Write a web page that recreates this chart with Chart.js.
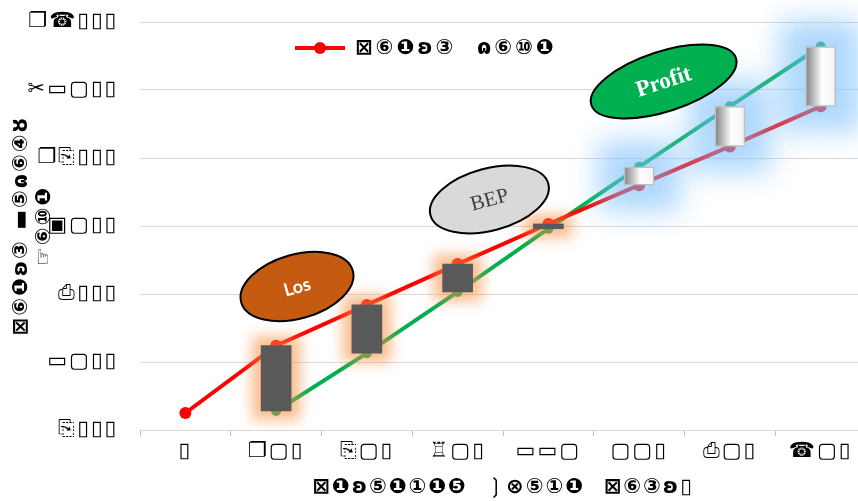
<!DOCTYPE html>
<html>
<head>
<meta charset="utf-8">
<script src="https://cdn.jsdelivr.net/npm/chart.js@4.4.1/dist/chart.umd.min.js"></script>
<style>
    html, body { margin: 0; padding: 0; background: #fff; overflow: hidden; }
    #wrap { width: 872px; height: 501px; }
</style>
</head>
<body>
<div id="wrap"><canvas id="breakEvenChart" width="872" height="501"></canvas></div>
<script>
// ============================================================================
// Dades (llegides del gràfic)
// ============================================================================

const categories = ['▯', '❐▢▯', '⎘▢▯', '♖▢▯', '▭▭▢', '▢▢▯', '⎙▢▯', '☎▢▯'];
const yTickLabels = ['⎘▯▯▯', '▭▢▯▯', '⎙▯▯▯', '▣▢▯▯', '❐⎘▯▯▯', '✂▭▢▯▯', '❐☎▯▯▯'];
const costValues = [250, 1240, 1840, 2440, 3030, 3600, 4170, 4760];
const revenueValues = [null, 280, 1130, 2030, 2960, 3870, 4760, 5640];

const legendText = '⊠⑥❶ʚ③  ɷ⑥⑩❶';
const yTitle = ['⊠⑥❶ʚ③ ▬⑤ɷ⑥④ȣ', '☞⑥⑩❶'];
const xTitle = '⊠❶ʚ⑤❶①❶❺  ❳⊗⑤①❶  ⊠⑥③ʚ▯';
const zoneNotes = ['Los', 'BEP', 'Profit'];

const GLYPH_FONT = 'DejaVu Sans';

// ============================================================================
// Helpers
// ============================================================================

const isLoss = i => revenueValues[i] !== null && revenueValues[i] < costValues[i];

function barFill(context) {
    const i = context.dataIndex;
    if (isLoss(i)) return '#595959';
    const chart = context.chart;
    if (!chart.chartArea) return '#d9d9d9';
    const x = chart.scales.x.getPixelForValue(i);
    const g = chart.ctx.createLinearGradient(x - 15, 0, x + 15, 0);
    g.addColorStop(0, '#808080');
    g.addColorStop(0.55, '#ffffff');
    g.addColorStop(1, '#f2f2f2');
    return g;
}

// Espaiat entre glifs (el canvas perd l'estat quan es redimensiona)
const spacingPlugin = {
    id: 'spacing',
    beforeLayout(chart) { chart.ctx.letterSpacing = '2px'; },
    beforeDraw(chart) { chart.ctx.letterSpacing = '2px'; }
};

// Glow al voltant de les barres (pèrdua = taronja, guany = blau)
const glowPlugin = {
    id: 'glow',
    beforeDatasetDraw(chart, args) {
        if (args.meta.type !== 'bar') return;
        const ctx = chart.ctx;
        ctx.save();
        args.meta.data.forEach((bar, i) => {
            if (revenueValues[i] === null) return;
            const { x, y, base, width } = bar.getProps(['x', 'y', 'base', 'width'], true);
            const top = Math.min(y, base), h = Math.abs(base - y);
            const loss = isLoss(i);
            const grow = loss ? 9 : 26;
            ctx.filter = loss ? 'blur(7px)' : 'blur(14px)';
            ctx.fillStyle = loss ? 'rgba(247, 140, 60, 0.6)' : 'rgba(120, 190, 250, 0.6)';
            ctx.fillRect(x - width / 2 - grow, top - grow, width + grow * 2, h + grow * 2);
        });
        ctx.restore();
    }
};

// El·lipses Los / BEP / Profit
const notesPlugin = {
    id: 'notes',
    afterDatasetsDraw(chart, args, opts) {
        const ctx = chart.ctx;
        opts.items.forEach((n, k) => {
            const px = chart.scales.x.getPixelForValue(n.at);
            const py = chart.scales.y.getPixelForValue(n.value);
            ctx.save();
            ctx.letterSpacing = '0px';
            ctx.translate(px, py);
            ctx.rotate(n.angle * Math.PI / 180);
            ctx.beginPath();
            ctx.ellipse(0, 0, n.rx, n.ry, 0, 0, Math.PI * 2);
            ctx.fillStyle = n.fill;
            ctx.fill();
            ctx.lineWidth = 2;
            ctx.strokeStyle = '#000';
            ctx.stroke();
            ctx.fillStyle = n.color;
            ctx.font = n.font;
            ctx.textAlign = 'center';
            ctx.textBaseline = 'middle';
            ctx.fillText(zoneNotes[k], 0, 1);
            ctx.restore();
        });
    }
};

// Llegenda dins l'àrea del gràfic
const legendPlugin = {
    id: 'innerLegend',
    afterDraw(chart, args, opts) {
        const ctx = chart.ctx;
        ctx.save();
        ctx.strokeStyle = '#ff0000';
        ctx.lineWidth = 4;
        ctx.beginPath();
        ctx.moveTo(opts.x, opts.y);
        ctx.lineTo(opts.x + 50, opts.y);
        ctx.stroke();
        ctx.fillStyle = '#ff0000';
        ctx.beginPath();
        ctx.arc(opts.x + 25, opts.y, 6, 0, Math.PI * 2);
        ctx.fill();
        ctx.fillStyle = '#000';
        ctx.letterSpacing = '3px';
        ctx.font = `bold 21px "${GLYPH_FONT}"`;
        ctx.textBaseline = 'middle';
        ctx.fillText(legendText, opts.x + 60, opts.y + 1);
        ctx.restore();
    }
};

// ============================================================================
// Gràfic
// ============================================================================

const ctx = document.getElementById('breakEvenChart').getContext('2d');

new Chart(ctx, {
    data: {
        labels: categories,
        datasets: [
            {
                type: 'bar',
                label: 'diferència',
                data: categories.map((c, i) => revenueValues[i] === null ? null : [revenueValues[i], costValues[i]]),
                backgroundColor: barFill,
                borderColor: '#bfbfbf',
                borderWidth: c => isLoss(c.dataIndex) ? 0 : 1.5,
                borderSkipped: false,
                barThickness: 30,
                order: 0
            },
            {
                type: 'line',
                label: legendText,
                data: costValues,
                borderColor: '#ff0000',
                backgroundColor: '#ff0000',
                borderWidth: 4,
                pointRadius: 6,
                pointBorderWidth: 0,
                tension: 0,
                order: 1
            },
            {
                type: 'line',
                label: 'ingressos',
                data: revenueValues,
                borderColor: '#00b050',
                backgroundColor: '#00b050',
                borderWidth: 4,
                pointRadius: 5,
                pointBorderWidth: 0,
                tension: 0,
                order: 2
            }
        ]
    },
    options: {
        responsive: false,
        animation: false,
        layout: { padding: { top: 22, right: 3, bottom: 0, left: 0 } },
        plugins: {
            legend: { display: false },
            tooltip: { enabled: false },
            innerLegend: { x: 295, y: 48 },
            notes: {
                items: [
                    { at: 1.23, value: 2110, rx: 58, ry: 32, angle: -16, fill: '#c55a11', color: '#fff', font: 'bold 18px Lato' },
                    { at: 3.35, value: 3390, rx: 61, ry: 31, angle: -15, fill: '#d9d9d9', color: '#404040', font: '21px "Liberation Serif"' },
                    { at: 5.27, value: 5125, rx: 76, ry: 30, angle: -18, fill: '#00b050', color: '#fff', font: 'bold 23px "Liberation Serif"' }
                ]
            }
        },
        scales: {
            x: {
                offset: true,
                grid: { display: true, drawOnChartArea: false, color: '#bfbfbf', tickLength: 6, offset: true },
                border: { color: '#d9d9d9', width: 1 },
                ticks: { color: '#000', font: { family: GLYPH_FONT, size: 21 }, padding: 3 },
                title: { display: true, text: xTitle, color: '#000', font: { family: GLYPH_FONT, size: 21, weight: 'bold' }, padding: { top: 2, bottom: 1 } },
                afterFit: s => { s.height = 71; s.paddingLeft = 0; s.paddingRight = 0; }
            },
            y: {
                min: 0,
                max: 6000,
                ticks: {
                    stepSize: 1000,
                    color: '#000',
                    font: { family: GLYPH_FONT, size: 21 },
                    padding: 22,
                    callback: v => yTickLabels[v / 1000]
                },
                grid: { color: '#d9d9d9', lineWidth: 1, drawTicks: false },
                border: { display: false },
                title: { display: true, text: yTitle, color: '#000', font: { family: GLYPH_FONT, size: 21, weight: 'bold', lineHeight: 1.1 }, padding: { top: 10, bottom: 0 } },
                afterFit: s => { s.width = 140; s.paddingTop = 0; s.paddingBottom = 0; }
            }
        }
    },
    plugins: [spacingPlugin, glowPlugin, notesPlugin, legendPlugin]
});
</script>
</body>
</html>
